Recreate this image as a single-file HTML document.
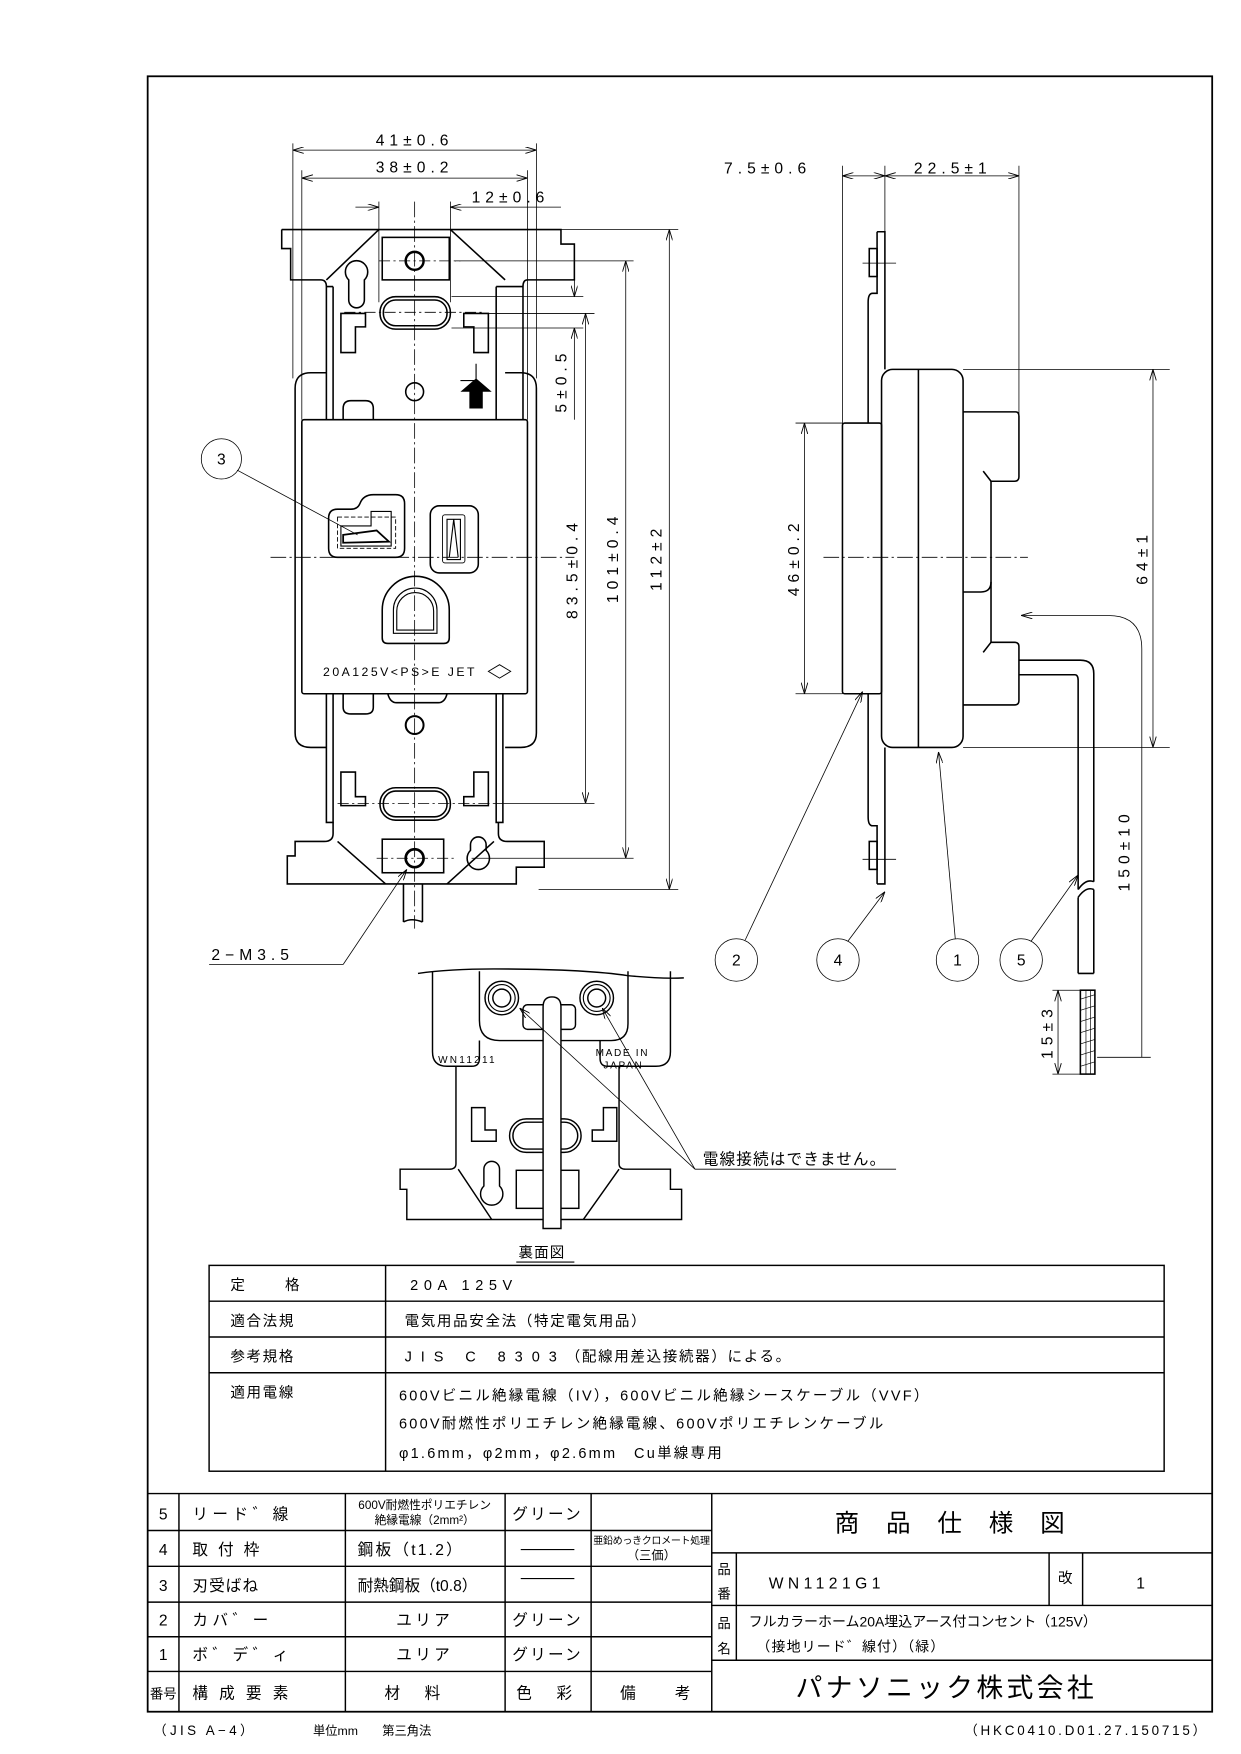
<!DOCTYPE html>
<html><head><meta charset="utf-8"><style>
html,body{margin:0;padding:0;background:#fff}
svg{display:block}
text{font-family:"Liberation Sans","Noto Sans CJK JP",sans-serif;fill:#000}
</style></head><body>
<svg width="1241" height="1754" viewBox="-2.2 -0.2 1111 1568" preserveAspectRatio="none" xmlns="http://www.w3.org/2000/svg">
<defs>
<marker id="a" viewBox="0 0 10 6" refX="10" refY="3" markerWidth="10" markerHeight="6" orient="auto-start-reverse" markerUnits="userSpaceOnUse"><path d="M0,0 L10,3 L0,6" fill="none" stroke="#000" stroke-width="0.8"/></marker>
</defs>
<rect x="130" y="68" width="953" height="1462" fill="none" stroke="#000" stroke-width="1.6"/>

<!-- ============ FRONT VIEW ============ -->
<g fill="none" stroke="#000" stroke-width="0.7">
<line x1="260" y1="128" x2="260" y2="338"/><line x1="478" y1="128" x2="478" y2="338"/>
<line x1="260" y1="134" x2="478" y2="134" marker-start="url(#a)" marker-end="url(#a)"/>
<line x1="268" y1="152" x2="268" y2="375"/><line x1="470" y1="152" x2="470" y2="375"/>
<line x1="268" y1="159" x2="470" y2="159" marker-start="url(#a)" marker-end="url(#a)"/>
<line x1="337" y1="180" x2="337" y2="270"/><line x1="401" y1="180" x2="401" y2="270"/>
<line x1="316" y1="185" x2="337" y2="185" marker-end="url(#a)"/>
<line x1="500" y1="185" x2="401" y2="185" marker-end="url(#a)"/>
<line x1="500" y1="205" x2="605" y2="205"/>
<line x1="405" y1="233" x2="565" y2="233"/>
<line x1="402" y1="265" x2="520" y2="265"/>
<line x1="402" y1="293" x2="520" y2="293"/>
<line x1="435" y1="280" x2="530" y2="280"/>
<line x1="440" y1="718" x2="530" y2="718"/>
<line x1="420" y1="767" x2="565" y2="767"/>
<line x1="480" y1="795" x2="605" y2="795"/>
<line x1="512" y1="245" x2="512" y2="265" marker-end="url(#a)"/>
<line x1="512" y1="375" x2="512" y2="293" marker-end="url(#a)"/>
<line x1="522" y1="280" x2="522" y2="718" marker-start="url(#a)" marker-end="url(#a)"/>
<line x1="558" y1="233" x2="558" y2="767" marker-start="url(#a)" marker-end="url(#a)"/>
<line x1="597" y1="205" x2="597" y2="795" marker-start="url(#a)" marker-end="url(#a)"/>
<line x1="369" y1="180" x2="369" y2="830" stroke-dasharray="14,3,2,3"/>
<line x1="240" y1="498" x2="512" y2="498" stroke-dasharray="14,3,2,3"/>
<line x1="306" y1="279" x2="432" y2="279" stroke-dasharray="10,3,2,3"/>
<line x1="337" y1="233" x2="410" y2="233" stroke-dasharray="10,3,2,3"/>
<line x1="335" y1="767" x2="405" y2="767" stroke-dasharray="10,3,2,3"/>
<line x1="300" y1="718" x2="440" y2="718" stroke-dasharray="10,3,2,3"/>
<circle cx="196" cy="410" r="18"/>
<line x1="210" y1="420" x2="318" y2="478"/>
<line x1="185" y1="862" x2="305" y2="862"/>
<line x1="305" y1="862" x2="362" y2="777" marker-end="url(#a)"/>
</g>
<g font-size="14" letter-spacing="4.5">
<text x="369" y="130" text-anchor="middle">41±0.6</text>
<text x="369" y="154" text-anchor="middle">38±0.2</text>
<text x="420" y="181">12±0.6</text>
<text transform="translate(505,340) rotate(-90)" text-anchor="middle">5±0.5</text>
<text transform="translate(515,508) rotate(-90)" text-anchor="middle">83.5±0.4</text>
<text transform="translate(551,498) rotate(-90)" text-anchor="middle">101±0.4</text>
<text transform="translate(590,498) rotate(-90)" text-anchor="middle">112±2</text>
<text x="196" y="415" text-anchor="middle" letter-spacing="0">3</text>
<text x="187" y="858">2−M3.5</text>
</g>
<g fill="none" stroke="#000" stroke-width="1.4">
<path d="M250,205 L500,205 L500,218 L512,218 L512,250 L470,250 Q466,250 466,256 L466,375"/>
<path d="M250,205 L250,222 L258,222 L258,250 L285,250 Q290,250 290,256 L290,375"/>
<path d="M296,256 L296,375 M442,256 L442,375 M290,256 L296,256 M442,256 L466,256"/>
<path d="M337,205 L290,250 M401,205 L450,250"/>
<rect x="340" y="212" width="60" height="38"/>
<circle cx="369" cy="233" r="8" stroke-width="2.2"/>
<path d="M310,250 A10,10 0 1 1 324,250 L324,268 A7,7 0 0 1 310,268 Z"/>
<rect x="338" y="265" width="63" height="29" rx="14"/>
<rect x="341" y="268" width="57" height="23" rx="11"/>
<path d="M303,280 L325,280 L325,292 L316,292 L316,315 L303,315 Z"/>
<path d="M413,280 L435,280 L435,315 L422,315 L422,292 L413,292 Z"/>
<circle cx="369" cy="350" r="8"/>
<path d="M305,375 L305,365 Q305,358 312,358 L325,358 Q332,358 332,365 L332,375"/>
<path d="M290,333 L276,333 Q262,333 262,347 L262,655 Q262,668 276,668 L290,668"/>
<path d="M450,333 L464,333 Q478,333 478,347 L478,655 Q478,668 464,668 L450,668"/>
<rect x="268" y="375" width="202" height="245" rx="2"/>
<path d="M290,620 L290,735 L296,735 L296,620 M442,620 L442,735 L448,735 L448,620"/>
<path d="M300,455 L312,455 Q318,455 320,450 Q323,442 332,442 L352,442 Q360,442 360,450 L360,490 Q360,498 352,498 L300,498 Q292,498 292,490 L292,463 Q292,455 300,455 Z"/>
<rect x="300" y="462" width="52" height="28" stroke-width="0.8" stroke-dasharray="4,2"/>
<path d="M303,470 L330,470 L330,457 L348,457 L348,488 L303,488 Z" stroke-width="1"/>
<path d="M305,478 L335,474 L346,484 L305,485 Z" stroke-width="1.6"/>
<rect x="383" y="452" width="43" height="60" rx="8"/>
<rect x="394" y="460" width="20" height="43" rx="2" stroke-width="0.8"/>
<path d="M398,464 L410,464 L410,500 L398,500 Z M404,464 L400,498 M404,464 L408,498" stroke-width="1"/>
<path d="M340,570 L340,545 A30,30 0 0 1 400,545 L400,570 Q400,575 395,575 L345,575 Q340,575 340,570 Z"/>
<path d="M350,566 L350,545 A19,19 0 0 1 389,545 L389,566 Z" stroke-width="1"/>
<path d="M353,563 L353,546 A16,16 0 0 1 386,546 L386,563 Z" stroke-width="1"/>
<path d="M305,620 L305,632 Q305,638 312,638 L325,638 Q332,638 332,632 L332,620"/>
<path d="M345,620 Q347,628 353,628 L390,628 Q396,628 398,620"/>
<circle cx="369" cy="648" r="8" stroke-width="1.8"/>
<path d="M303,690 L316,690 L316,712 L325,712 L325,720 L303,720 Z"/>
<path d="M422,690 L435,690 L435,720 L413,720 L413,712 L422,712 Z"/>
<rect x="338" y="704" width="63" height="29" rx="14"/>
<rect x="341" y="707" width="57" height="23" rx="11"/>
<path d="M296,735 L296,745 Q296,752 288,752 L262,752 L262,765 L255,765 L255,790 L460,790 L460,775 L485,775 L485,752 L452,752 Q444,752 444,745 L444,735"/>
<path d="M300,752 L343,790 M440,752 L398,790"/>
<rect x="340" y="750" width="55" height="30"/>
<circle cx="369" cy="767" r="8" stroke-width="2.4"/>
<path d="M419,755 A7,7 0 0 1 433,755 L433,760 A10,10 0 1 1 419,760 Z"/>
<path d="M359,790 L359,824 M376,790 L376,824 M359,824 Q366,820 376,824"/>
</g>
<text x="287" y="604" font-size="11" letter-spacing="2.2">20A125V&lt;PS&gt;E  JET</text>
<path d="M435,600 L445,594 L455,600 L445,606 Z" fill="none" stroke="#000" stroke-width="0.8"/>
<path d="M410,340 L424,340 L424,350 M424,325 L424,355" fill="none" stroke="#000" stroke-width="1"/>
<path d="M424,338 L410,350 L418,350 L418,365 L430,365 L430,350 L438,350 Z" fill="#000"/>

<!-- ============ SIDE VIEW ============ -->
<g fill="none" stroke="#000" stroke-width="0.7">
<line x1="752" y1="148" x2="752" y2="620"/>
<line x1="790" y1="148" x2="790" y2="262"/>
<line x1="910" y1="148" x2="910" y2="370"/>
<line x1="752" y1="157" x2="790" y2="157" marker-start="url(#a)" marker-end="url(#a)"/>
<line x1="790" y1="157" x2="910" y2="157" marker-start="url(#a)" marker-end="url(#a)"/>
<line x1="860" y1="330" x2="1045" y2="330"/>
<line x1="860" y1="668" x2="1045" y2="668"/>
<line x1="1030" y1="330" x2="1030" y2="668" marker-start="url(#a)" marker-end="url(#a)"/>
<line x1="710" y1="378" x2="752" y2="378"/><line x1="710" y1="620" x2="752" y2="620"/>
<line x1="718" y1="378" x2="718" y2="620" marker-start="url(#a)" marker-end="url(#a)"/>
<path d="M1020,945 L1020,580 Q1020,550 990,550 L912,550" marker-end="url(#a)"/>
<line x1="980" y1="945" x2="1028" y2="945"/>
<line x1="940" y1="885" x2="965" y2="885"/><line x1="940" y1="960" x2="965" y2="960"/>
<line x1="945" y1="885" x2="945" y2="960" marker-start="url(#a)" marker-end="url(#a)"/>
<line x1="735" y1="498" x2="918" y2="498" stroke-dasharray="14,3,2,3"/>
<line x1="770" y1="235" x2="800" y2="235"/>
<line x1="770" y1="768" x2="800" y2="768"/>
<circle cx="657" cy="858" r="19"/><circle cx="748" cy="858" r="19"/>
<circle cx="855" cy="858" r="19"/><circle cx="912" cy="858" r="19"/>
<line x1="665" y1="840" x2="770" y2="618" marker-end="url(#a)"/>
<line x1="757" y1="841" x2="790" y2="797" marker-end="url(#a)"/>
<line x1="853" y1="839" x2="838" y2="672" marker-end="url(#a)"/>
<line x1="921" y1="841" x2="963" y2="782" marker-end="url(#a)"/>
</g>
<g font-size="14" letter-spacing="4.5">
<text x="646" y="155">7.5±0.6</text>
<text x="816" y="155">22.5±1</text>
<text transform="translate(713,498) rotate(-90)" text-anchor="middle">46±0.2</text>
<text transform="translate(1025,498) rotate(-90)" text-anchor="middle">64±1</text>
<text transform="translate(1009,760) rotate(-90)" text-anchor="middle">150±10</text>
<text transform="translate(940,922) rotate(-90)" text-anchor="middle">15±3</text>
<g text-anchor="middle" letter-spacing="0"><text x="657" y="863">2</text><text x="748" y="863">4</text><text x="855" y="863">1</text><text x="912" y="863">5</text></g>
</g>
<g fill="none" stroke="#000" stroke-width="1.4">
<path d="M783,207 L790,207 L790,330 M783,207 L783,262 L779,262 Q775,262 775,270 L775,378"/>
<rect x="776" y="222" width="7" height="25"/>
<path d="M783,790 L790,790 L790,668 M783,790 L783,738 L779,738 Q775,738 775,730 L775,620"/>
<rect x="776" y="752" width="7" height="25"/>
<rect x="752" y="378" width="35" height="242" rx="2"/>
<rect x="787" y="330" width="73" height="338" rx="10"/>
<line x1="820" y1="330" x2="820" y2="668"/>
<path d="M860,368 L907,368 Q910,368 910,372 L910,426 Q910,430 906,430 L885,430 L885,574 L906,574 Q910,574 910,578 L910,626 Q910,630 906,630 L860,630"/>
<path d="M860,529 L876,529 Q885,529 885,520"/>
<path d="M878,421 L885,430 M878,583 L885,574"/>
<path d="M910,590 L965,590 Q977,590 977,602 L977,788"/>
<path d="M910,603 L960,603 Q963,603 963,608 L963,795"/>
<path d="M963,795 Q970,785 977,788"/>
<path d="M963,802 Q970,792 977,795"/>
<path d="M963,802 L963,870 M977,795 L977,870 M963,870 L977,870"/>
<rect x="965" y="885" width="13" height="75"/>
</g>
<g stroke="#000" stroke-width="0.6">
<line x1="965" y1="893" x2="978" y2="889"/><line x1="965" y1="903" x2="978" y2="899"/><line x1="965" y1="913" x2="978" y2="909"/><line x1="965" y1="923" x2="978" y2="919"/><line x1="965" y1="933" x2="978" y2="929"/><line x1="965" y1="943" x2="978" y2="939"/><line x1="965" y1="953" x2="978" y2="949"/>
<line x1="970" y1="885" x2="970" y2="960"/><line x1="974" y1="885" x2="974" y2="960"/>
</g>

<!-- ============ BACK VIEW ============ -->
<g fill="none" stroke="#000" stroke-width="1.3">
<path d="M372,870 Q400,866 440,866 Q520,866 560,872 Q590,875 610,874"/>
<path d="M427,868 L427,912 Q427,930 445,930 L545,930 Q560,930 560,915 L560,868"/>
<path d="M385,868 L385,940 Q385,953 398,953 L420,953 Q427,953 427,946 L427,930"/>
<path d="M598,868 L598,940 Q598,953 585,953 L542,953 Q535,953 535,946 L535,930"/>
<circle cx="447" cy="892" r="15"/><circle cx="447" cy="892" r="12" stroke-width="1"/><circle cx="447" cy="892" r="8"/>
<circle cx="532" cy="892" r="15"/><circle cx="532" cy="892" r="12" stroke-width="1"/><circle cx="532" cy="892" r="8"/>
<rect x="466" y="898" width="47" height="22" rx="4"/>
<path d="M406,953 L406,1040 Q406,1045 400,1045 L356,1045 L356,1063 L362,1063 L362,1090 L608,1090 L608,1063 L598,1063 L598,1045 L558,1045 Q552,1045 552,1040 L552,953"/>
<path d="M408,1045 L438,1090 M552,1045 L520,1090"/>
<rect x="460" y="1046" width="56" height="34"/>
<path d="M431,1060 L431,1045 A7,7 0 0 1 445,1045 L445,1060 A10,10 0 1 1 431,1060 Z"/>
<path d="M420,990 L432,990 L432,1010 L442,1010 L442,1020 L420,1020 Z"/>
<path d="M528,1010 L538,1010 L538,990 L550,990 L550,1020 L528,1020 Z"/>
<rect x="454" y="1000" width="64" height="30" rx="15"/>
<rect x="457" y="1003" width="58" height="24" rx="12"/>
<path d="M484,1098 L484,900 Q484,891 492,891 Q500,891 500,900 L500,1098 Z" fill="#fff"/>
</g>
<g fill="none" stroke="#000" stroke-width="0.7">
<line x1="620" y1="1045" x2="463" y2="901" marker-end="url(#a)"/>
<line x1="620" y1="1045" x2="537" y2="901" marker-end="url(#a)"/>
<line x1="620" y1="1045" x2="800" y2="1045"/>
<line x1="460" y1="1128" x2="512" y2="1128" stroke-width="1"/>
</g>
<text x="390" y="950" font-size="9" letter-spacing="2">WN11211</text>
<text x="531" y="944" font-size="9" letter-spacing="1.5">MADE IN</text>
<text x="538" y="955" font-size="9" letter-spacing="1.5">JAPAN</text>
<text x="627" y="1041" font-size="14" letter-spacing="1">電線接続はできません。</text>
<text x="462" y="1124" font-size="13" letter-spacing="1">裏面図</text>

<!-- ============ SPEC TABLE ============ -->
<g fill="none" stroke="#000" stroke-width="1.3">
<rect x="185" y="1131" width="855" height="184"/>
<line x1="185" y1="1163" x2="1040" y2="1163"/>
<line x1="185" y1="1195" x2="1040" y2="1195"/>
<line x1="185" y1="1227" x2="1040" y2="1227"/>
<line x1="343" y1="1131" x2="343" y2="1315"/>
</g>
<g font-size="13" letter-spacing="1.5">
<text x="204" y="1153">定</text><text x="253" y="1153">格</text>
<text x="204" y="1185">適合法規</text>
<text x="204" y="1217">参考規格</text>
<text x="204" y="1249">適用電線</text>
<text x="365" y="1153" letter-spacing="5">20A 125V</text>
<text x="360" y="1185">電気用品安全法（特定電気用品）</text>
<text x="360" y="1217"><tspan letter-spacing="8">JIS C 8303</tspan>（配線用差込接続器）による。</text>
<text x="355" y="1252" letter-spacing="2">600Vビニル絶縁電線（IV），600Vビニル絶縁シースケーブル（VVF）</text>
<text x="355" y="1277" letter-spacing="2">600V耐燃性ポリエチレン絶縁電線、600Vポリエチレンケーブル</text>
<text x="355" y="1303" letter-spacing="2">φ1.6mm，φ2mm，φ2.6mm　Cu単線専用</text>
</g>

<!-- ============ TITLE BLOCK ============ -->
<g fill="none" stroke="#000" stroke-width="1.3">
<line x1="130" y1="1335" x2="1083" y2="1335"/>
<line x1="130" y1="1368" x2="635" y2="1368"/>
<line x1="130" y1="1400" x2="635" y2="1400"/>
<line x1="130" y1="1432" x2="635" y2="1432"/>
<line x1="130" y1="1463" x2="635" y2="1463"/>
<line x1="130" y1="1494" x2="635" y2="1494"/>
<line x1="158" y1="1335" x2="158" y2="1530"/>
<line x1="307" y1="1335" x2="307" y2="1530"/>
<line x1="450" y1="1335" x2="450" y2="1530"/>
<line x1="527" y1="1335" x2="527" y2="1530"/>
<line x1="635" y1="1335" x2="635" y2="1530"/>
<line x1="635" y1="1388" x2="1083" y2="1388"/>
<line x1="635" y1="1435" x2="1083" y2="1435"/>
<line x1="635" y1="1484" x2="1083" y2="1484"/>
<line x1="657" y1="1388" x2="657" y2="1484"/>
<line x1="937" y1="1388" x2="937" y2="1435"/>
<line x1="967" y1="1388" x2="967" y2="1435"/>
</g>
<g font-size="14">
<text x="140" y="1358">5</text><text x="140" y="1390">4</text><text x="140" y="1422">3</text><text x="140" y="1453">2</text><text x="140" y="1484">1</text>
<text x="132" y="1518" font-size="12">番号</text>
<text x="170" y="1358" letter-spacing="4">リード゛線</text>
<text x="170" y="1390" letter-spacing="9">取付枠</text>
<text x="170" y="1422" letter-spacing="1">刃受ばね</text>
<text x="170" y="1453" letter-spacing="4">カバ゛ー</text>
<text x="170" y="1484" letter-spacing="4">ボ゛デ゛ィ</text>
<text x="170" y="1518" letter-spacing="10">構成要素</text>
<text x="378" y="1349" font-size="10.5" text-anchor="middle">600V耐燃性ポリエチレン</text>
<text x="378" y="1362" font-size="10.5" text-anchor="middle">絶縁電線（2mm²）</text>
<text x="318" y="1390" letter-spacing="2">鋼板（t1.2）</text>
<text x="318" y="1422">耐熱鋼板（t0.8）</text>
<text x="378" y="1453" text-anchor="middle" letter-spacing="3">ユリア</text>
<text x="378" y="1484" text-anchor="middle" letter-spacing="3">ユリア</text>
<text x="378" y="1518" text-anchor="middle" letter-spacing="22">材料</text>
<text x="488" y="1358" text-anchor="middle" letter-spacing="2">グリーン</text>
<text x="488" y="1453" text-anchor="middle" letter-spacing="2">グリーン</text>
<text x="488" y="1484" text-anchor="middle" letter-spacing="2">グリーン</text>
<text x="460" y="1518" letter-spacing="22">色彩</text>
<text x="553" y="1518" letter-spacing="35">備考</text>
<text x="581" y="1380" font-size="9" text-anchor="middle" letter-spacing="-0.3">亜鉛めっきクロメート処理</text>
<text x="581" y="1394" font-size="11" text-anchor="middle">（三価）</text>
<text x="745" y="1369" font-size="22" letter-spacing="24">商品仕様図</text>
<text x="640" y="1407" font-size="12">品</text><text x="640" y="1429" font-size="12">番</text>
<text x="640" y="1455" font-size="12">品</text><text x="640" y="1478" font-size="12">名</text>
<text x="686" y="1420" letter-spacing="4">WN1121G1</text>
<text x="945" y="1415" font-size="13">改</text>
<text x="1015" y="1420">1</text>
<text x="668" y="1454" font-size="12.5">フルカラーホーム20A埋込アース付コンセント（125V）</text>
<text x="675" y="1476" font-size="12.5" letter-spacing="1">（接地リード゛線付）（緑）</text>
<text x="710" y="1517" font-size="24" letter-spacing="3">パナソニック株式会社</text>
</g>
<line x1="464" y1="1411" x2="512" y2="1411" stroke="#000" stroke-width="1"/>
<line x1="464" y1="1385" x2="512" y2="1385" stroke="#000" stroke-width="1"/>
<text x="135" y="1551" font-size="12" letter-spacing="3">（JIS A−4）</text>
<text x="278" y="1551" font-size="11">単位mm</text>
<text x="340" y="1551" font-size="11">第三角法</text>
<text x="1080" y="1551" font-size="12" letter-spacing="2.5" text-anchor="end">（HKC0410.D01.27.150715）</text>
</svg>
</body></html>
